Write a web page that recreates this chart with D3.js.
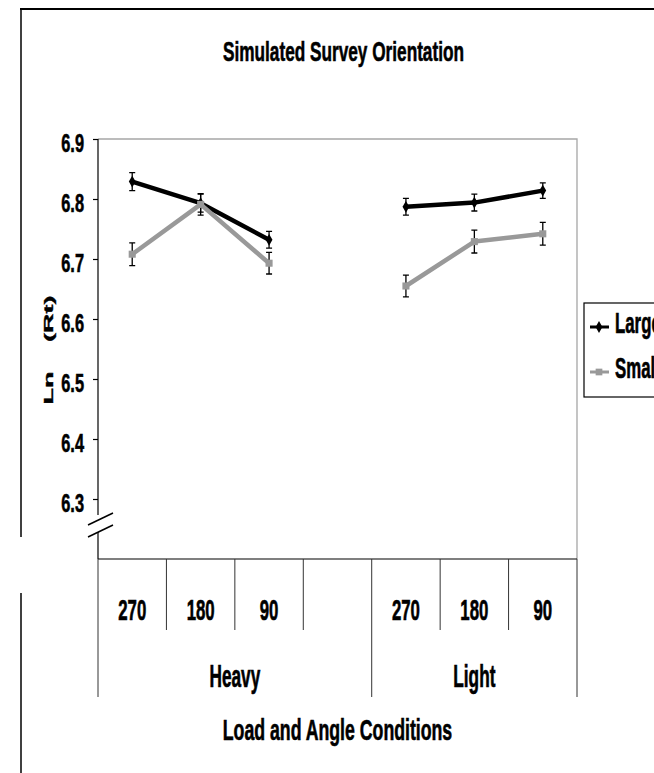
<!DOCTYPE html>
<html>
<head>
<meta charset="utf-8">
<script src="https://cdn.jsdelivr.net/npm/d3@7/dist/d3.min.js"></script>
<style>
  html, body { margin: 0; padding: 0; background: #fff; }
  svg { display: block; }
  text { font-family: 'Liberation Sans', Arial, sans-serif; font-weight: bold; fill: #000; stroke: #000; stroke-width: 0.45px; }
</style>
</head>
<body>
<svg id="chart" width="654" height="773"></svg>
<script>
// Angle categories along the x axis (empty slot separates the load groups)
const categories = ["270", "180", "90", "", "270", "180", "90"];
const groupNames = ["Heavy", "Light"];
const groupSpans = [4, 3];

// Mean Ln(Rt) per condition and standard error
const largeMeans = [6.829, 6.793, 6.732, null, 6.787, 6.794, 6.814];
const largeErr   = [0.015, 0.015, 0.014, null, 0.014, 0.014, 0.013];
const smallMeans = [6.708, 6.791, 6.693, null, 6.655, 6.729, 6.742];
const smallErr   = [0.019, 0.018, 0.018, null, 0.018, 0.019, 0.019];

const yTicks = [6.3, 6.4, 6.5, 6.6, 6.7, 6.8, 6.9];
const seriesNames = ["Large", "Small"];

const svg = d3.select("#chart");

const plot = { left: 98, right: 577, top: 139, bottom: 559 };

const x = d3.scaleBand()
  .domain(d3.range(categories.length))
  .range([plot.left, plot.right])
  .paddingInner(0).paddingOuter(0);

const y = d3.scaleLinear()
  .domain([6.2, 6.9])
  .range([plot.bottom, plot.top]);

// Condensed, tall bold text: squeezed horizontally, stretched vertically
const SX = 0.82;
function label(parent, px, py, str, size, sy, anchor) {
  return parent.append("text")
    .attr("transform", `translate(${px},${py}) scale(${SX},${sy})`)
    .attr("text-anchor", anchor || "middle")
    .style("font-size", size + "px")
    .text(str);
}

// Outer frame
svg.append("line").attr("x1", 20).attr("x2", 654).attr("y1", 9).attr("y2", 9)
  .attr("stroke", "#000").attr("stroke-width", 2);
svg.append("line").attr("x1", 21).attr("x2", 21).attr("y1", 9).attr("y2", 537)
  .attr("stroke", "#000").attr("stroke-width", 1.5);
svg.append("line").attr("x1", 21).attr("x2", 21).attr("y1", 593).attr("y2", 773)
  .attr("stroke", "#000").attr("stroke-width", 1.5);

// Title
label(svg, 343.5, 61, "Simulated Survey Orientation", 21, 1.35);

// Plot area border (top and right)
svg.append("path")
  .attr("d", `M${plot.left},${plot.top}H${plot.right}V${plot.bottom}`)
  .attr("fill", "none").attr("stroke", "#a6a6a6").attr("stroke-width", 1.3);

// Y axis
const yAxis = svg.append("g")
  .attr("transform", `translate(${plot.left},0)`)
  .call(d3.axisLeft(y).tickValues(yTicks).tickSize(5).tickFormat(d3.format(".1f")));
yAxis.select(".domain").remove();
yAxis.selectAll(".tick line").attr("stroke", "#000").attr("stroke-width", 1.2);
yAxis.selectAll(".tick text").remove();
yAxis.selectAll(".tick").each(function(d) {
  label(d3.select(this), -14, 12.5, d3.format(".1f")(d), 20, 1.32, "end");
});

// Axis line with a break near the bottom
const breakTop = 515, breakBottom = 532;
svg.append("line").attr("x1", plot.left).attr("x2", plot.left)
  .attr("y1", plot.top).attr("y2", breakTop).attr("stroke", "#000").attr("stroke-width", 1.2);
svg.append("line").attr("x1", plot.left).attr("x2", plot.left)
  .attr("y1", breakBottom).attr("y2", plot.bottom).attr("stroke", "#000").attr("stroke-width", 1.2);
[0, 12].forEach(off => {
  svg.append("line")
    .attr("x1", plot.left - 10).attr("y1", breakTop + 10 + off)
    .attr("x2", plot.left + 15).attr("y2", breakTop - 2 + off)
    .attr("stroke", "#000").attr("stroke-width", 1.5);
});

// Y axis title (rotated, stretched along its length, wide word gap)
svg.append("text")
  .attr("transform", "translate(52.5,350) rotate(-90) scale(2.0,1)")
  .attr("text-anchor", "middle")
  .style("font-size", "13.5px")
  .style("word-spacing", "11px")
  .style("stroke-width", "0.35px")
  .text("Ln (Rt)");

// Category axis: baseline, separators, labels
svg.append("line").attr("x1", plot.left).attr("x2", plot.right)
  .attr("y1", plot.bottom).attr("y2", plot.bottom)
  .attr("stroke", "#000").attr("stroke-width", 1.2);

const groupEdges = [0];
groupSpans.forEach(s => groupEdges.push(groupEdges[groupEdges.length - 1] + s));
const boundaries = d3.range(categories.length + 1);
boundaries.forEach(i => {
  const bx = i < categories.length ? x(i) : plot.right;
  const long = groupEdges.includes(i);
  svg.append("line")
    .attr("x1", bx).attr("x2", bx)
    .attr("y1", plot.bottom).attr("y2", long ? 697 : 630)
    .attr("stroke", "#333").attr("stroke-width", 1);
});

categories.forEach((c, i) => {
  if (c) label(svg, x(i) + x.bandwidth() / 2, 620, c, 20.5, 1.45);
});

groupNames.forEach((g, gi) => {
  const a = groupEdges[gi];
  const b = groupEdges[gi + 1];
  const x0 = x(a);
  const x1 = b < categories.length ? x(b) : plot.right;
  label(svg, (x0 + x1) / 2, 687, g, 21, 1.45);
});

label(svg, (plot.left + plot.right) / 2, 740, "Load and Angle Conditions", 21.6, 1.38);

// Series lines, error bars and markers
const cx = i => x(i) + x.bandwidth() / 2;
const line = d3.line()
  .defined(d => d.v != null)
  .x(d => cx(d.i))
  .y(d => y(d.v));

const series = [
  { name: seriesNames[0], means: largeMeans, err: largeErr, color: "#000", marker: "diamond" },
  { name: seriesNames[1], means: smallMeans, err: smallErr, color: "#999", marker: "square" }
];

series.forEach(s => {
  const pts = s.means.map((v, i) => ({ v, i, e: s.err[i] }));
  svg.append("path")
    .datum(pts)
    .attr("d", line)
    .attr("fill", "none")
    .attr("stroke", s.color)
    .attr("stroke-width", 4.5)
    .attr("stroke-linejoin", "round");
});

series.forEach(s => {
  const pts = s.means.map((v, i) => ({ v, i, e: s.err[i] })).filter(d => d.v != null);
  const g = svg.append("g");
  pts.forEach(d => {
    const px = cx(d.i);
    const yTop = y(d.v + d.e), yBot = y(d.v - d.e);
    g.append("path")
      .attr("d", `M${px},${yTop}V${yBot}M${px - 3},${yTop}H${px + 3}M${px - 3},${yBot}H${px + 3}`)
      .attr("fill", "none").attr("stroke", "#000").attr("stroke-width", 1.3);
  });
  g.selectAll(".mk").data(pts).enter().append("path")
    .attr("transform", d => `translate(${cx(d.i)},${y(d.v)})`)
    .attr("d", d3.symbol().type(s.marker === "diamond" ? d3.symbolDiamond : d3.symbolSquare).size(s.marker === "diamond" ? 40 : 50))
    .attr("fill", s.color);
});

// Legend
const legend = svg.append("g");
legend.append("rect")
  .attr("x", 584).attr("y", 303).attr("width", 120).attr("height", 94)
  .attr("fill", "#fff").attr("stroke", "#000").attr("stroke-width", 1.2);
series.forEach((s, i) => {
  const ly = 327 + i * 45;
  legend.append("line")
    .attr("x1", 590).attr("x2", 609).attr("y1", ly).attr("y2", ly)
    .attr("stroke", s.color).attr("stroke-width", 3);
  legend.append("path")
    .attr("transform", `translate(599,${ly})`)
    .attr("d", d3.symbol().type(s.marker === "diamond" ? d3.symbolDiamond : d3.symbolSquare).size(s.marker === "diamond" ? 40 : 45))
    .attr("fill", s.color);
  label(legend, 615, ly + 6, s.name, 20.5, 1.45, "start");
});
</script>
</body>
</html>
